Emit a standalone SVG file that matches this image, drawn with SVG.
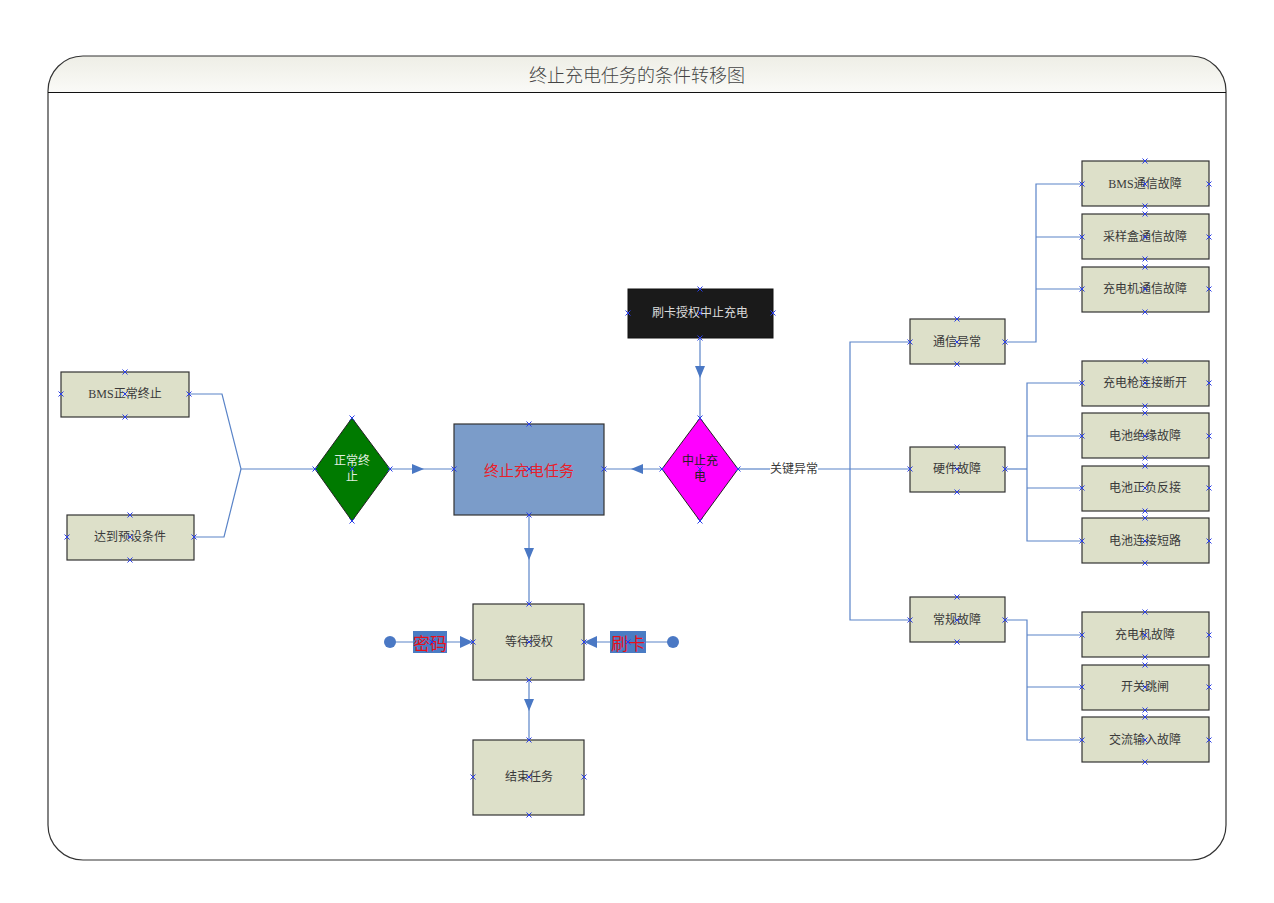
<svg xmlns="http://www.w3.org/2000/svg" xmlns:xlink="http://www.w3.org/1999/xlink" width="1274" height="903" viewBox="0 0 1274 903">
<style>
.box{fill:#dde0c9;stroke:#333;stroke-width:1.2}
.t{font-family:"Liberation Serif","Noto Sans CJK SC",serif;font-size:12px;fill:#3a3a3a;text-anchor:middle;dominant-baseline:central}
.ln{fill:none;stroke:#5a84c8;stroke-width:1.2}
.ah{fill:#4a78c4}
.xm{fill:none;stroke:#2a3ee8;stroke-width:1}
</style>
<defs>
<linearGradient id="hg" x1="0" y1="0" x2="0" y2="1">
<stop offset="0" stop-color="#eeeee6"/>
<stop offset="1" stop-color="#fafaf7"/>
</linearGradient>
<symbol id="x" overflow="visible"><path d="M-2.5,-2.5L2.5,2.5M-2.5,2.5L2.5,-2.5" class="xm"/></symbol>
</defs>
<rect width="1274" height="903" fill="#fff"/>
<g id="frame">
<path d="M48,92 L48,91 A35,35 0 0 1 83,56 L1191,56 A35,35 0 0 1 1226,91 L1226,92 Z" fill="url(#hg)"/>
<rect x="48" y="56" width="1178" height="804" rx="35" ry="35" fill="none" stroke="#333" stroke-width="1.2"/>
<line x1="48" y1="92.5" x2="1226" y2="92.5" stroke="#111" stroke-width="1.2"/>
<text x="637" y="74" font-family="'Noto Sans CJK SC',sans-serif" font-size="18" font-weight="300" fill="#444" text-anchor="middle" dominant-baseline="central">终止充电任务的条件转移图</text>
</g>
<g id="connectors">
<polyline class="ln" points="189,394 222,394 241,469 315,469"/>
<polyline class="ln" points="194,537 224,537 241,469"/>
<line class="ln" x1="390" y1="469" x2="454" y2="469"/>
<path class="ah" d="M412,464 L424,469 L412,474 Z"/>
<line class="ln" x1="662" y1="469" x2="604" y2="469"/>
<path class="ah" d="M643,464 L631,469 L643,474 Z"/>
<line class="ln" x1="700" y1="338" x2="700" y2="418"/>
<path class="ah" d="M695,366 L700,378 L705,366 Z"/>
<line class="ln" x1="529" y1="515" x2="529" y2="604"/>
<path class="ah" d="M524,548 L529,560 L534,548 Z"/>
<line class="ln" x1="529" y1="680" x2="529" y2="740"/>
<path class="ah" d="M524,699 L529,711 L534,699 Z"/>
<line class="ln" x1="390" y1="642" x2="473" y2="642"/>
<circle cx="390" cy="642" r="6" fill="#4a78c4"/>
<path class="ah" d="M460,636 L473,642 L460,648 Z"/>
<rect x="413" y="631" width="34" height="22" fill="#4a7cc4"/>
<text x="430" y="642" font-family="'Noto Sans CJK SC',sans-serif" font-size="17" fill="#e8101a" text-anchor="middle" dominant-baseline="central">密码</text>
<line class="ln" x1="673" y1="642" x2="584" y2="642"/>
<circle cx="673" cy="642" r="6" fill="#4a78c4"/>
<path class="ah" d="M597,636 L584,642 L597,648 Z"/>
<rect x="610" y="631" width="36" height="22" fill="#4a7cc4"/>
<text x="628" y="642" font-family="'Noto Sans CJK SC',sans-serif" font-size="17" fill="#e8101a" text-anchor="middle" dominant-baseline="central">刷卡</text>
<line class="ln" x1="738" y1="469" x2="770" y2="469"/>
<line class="ln" x1="818" y1="469" x2="910" y2="469"/>
<text class="t" x="794" y="469">关键异常</text>
<polyline class="ln" points="910,342 850,342 850,620 910,620"/>
<polyline class="ln" points="1005,342 1036,342 1036,184 1082,184"/>
<line class="ln" x1="1036" y1="237" x2="1082" y2="237"/>
<line class="ln" x1="1036" y1="289" x2="1082" y2="289"/>
<polyline class="ln" points="1005,469 1027,469"/>
<polyline class="ln" points="1082,383 1027,383 1027,541 1082,541"/>
<line class="ln" x1="1027" y1="436" x2="1082" y2="436"/>
<line class="ln" x1="1027" y1="488" x2="1082" y2="488"/>
<polyline class="ln" points="1005,620 1027,620 1027,740 1082,740"/>
<line class="ln" x1="1027" y1="635" x2="1082" y2="635"/>
<line class="ln" x1="1027" y1="687" x2="1082" y2="687"/>
</g>
<g id="n-bms-normal"><rect class="box" x="61" y="372" width="128" height="45"/><text class="t" x="125" y="394">BMS正常终止</text></g>
<g id="n-preset"><rect class="box" x="67" y="515" width="127" height="45"/><text class="t" x="130" y="537">达到预设条件</text></g>
<g id="n-normal-stop"><path d="M352,418 L390,469 L352,521 L315,469 Z" fill="#007a00" stroke="#222" stroke-width="1"/><text class="t" x="352" y="461" style="fill:#e0eee0">正常终</text><text class="t" x="352" y="477" style="fill:#e0eee0">止</text></g>
<g id="n-terminate"><rect x="454" y="424" width="150" height="91" fill="#7b9cc9" stroke="#333" stroke-width="1.2"/><text x="529" y="469" font-family="'Noto Sans CJK SC',sans-serif" font-size="15" fill="#e8202a" text-anchor="middle" dominant-baseline="central">终止充电任务</text></g>
<g id="n-card-stop"><rect x="628" y="289" width="145" height="49" fill="#1a1a1a" stroke="#111"/><text class="t" x="700" y="313" style="fill:#dcdcdc">刷卡授权中止充电</text></g>
<g id="n-abort"><path d="M700,418 L738,469 L700,521 L662,469 Z" fill="#ff00ff" stroke="#222" stroke-width="1"/><text class="t" x="700" y="461" style="fill:#222">中止充</text><text class="t" x="700" y="477" style="fill:#222">电</text></g>
<g id="n-wait"><rect class="box" x="473" y="604" width="111" height="76"/><text class="t" x="529" y="642">等待授权</text></g>
<g id="n-end"><rect class="box" x="473" y="740" width="111" height="75"/><text class="t" x="529" y="777">结束任务</text></g>
<g id="n-comm"><rect class="box" x="910" y="319" width="95" height="45"/><text class="t" x="957" y="342">通信异常</text></g>
<g id="n-hw"><rect class="box" x="910" y="447" width="95" height="45"/><text class="t" x="957" y="469">硬件故障</text></g>
<g id="n-gen"><rect class="box" x="910" y="597" width="95" height="45"/><text class="t" x="957" y="620">常规故障</text></g>
<g id="n-r1"><rect class="box" x="1082" y="161" width="127" height="45"/><text class="t" x="1145" y="184">BMS通信故障</text></g>
<g id="n-r2"><rect class="box" x="1082" y="214" width="127" height="45"/><text class="t" x="1145" y="237">采样盒通信故障</text></g>
<g id="n-r3"><rect class="box" x="1082" y="267" width="127" height="45"/><text class="t" x="1145" y="289">充电机通信故障</text></g>
<g id="n-r4"><rect class="box" x="1082" y="361" width="127" height="45"/><text class="t" x="1145" y="383">充电枪连接断开</text></g>
<g id="n-r5"><rect class="box" x="1082" y="413" width="127" height="45"/><text class="t" x="1145" y="436">电池绝缘故障</text></g>
<g id="n-r6"><rect class="box" x="1082" y="466" width="127" height="45"/><text class="t" x="1145" y="488">电池正负反接</text></g>
<g id="n-r7"><rect class="box" x="1082" y="518" width="127" height="45"/><text class="t" x="1145" y="541">电池连接短路</text></g>
<g id="n-r8"><rect class="box" x="1082" y="612" width="127" height="45"/><text class="t" x="1145" y="635">充电机故障</text></g>
<g id="n-r9"><rect class="box" x="1082" y="665" width="127" height="45"/><text class="t" x="1145" y="687">开关跳闸</text></g>
<g id="n-r10"><rect class="box" x="1082" y="717" width="127" height="45"/><text class="t" x="1145" y="740">交流输入故障</text></g>
<g id="markers">
<use href="#x" x="61" y="394"/><use href="#x" x="189" y="394"/><use href="#x" x="125" y="372"/><use href="#x" x="125" y="417"/><use href="#x" x="125" y="394"/>
<use href="#x" x="67" y="537"/><use href="#x" x="194" y="537"/><use href="#x" x="130" y="515"/><use href="#x" x="130" y="560"/><use href="#x" x="130" y="537"/>
<use href="#x" x="352" y="418"/><use href="#x" x="352" y="521"/><use href="#x" x="315" y="469"/><use href="#x" x="390" y="469"/><use href="#x" x="352" y="469"/>
<use href="#x" x="529" y="424"/><use href="#x" x="529" y="515"/><use href="#x" x="454" y="469"/><use href="#x" x="604" y="469"/><use href="#x" x="529" y="469"/>
<use href="#x" x="700" y="289"/><use href="#x" x="700" y="338"/><use href="#x" x="628" y="313"/><use href="#x" x="773" y="313"/><use href="#x" x="700" y="313"/>
<use href="#x" x="700" y="418"/><use href="#x" x="700" y="521"/><use href="#x" x="662" y="469"/><use href="#x" x="738" y="469"/><use href="#x" x="700" y="469"/>
<use href="#x" x="529" y="604"/><use href="#x" x="529" y="680"/><use href="#x" x="473" y="642"/><use href="#x" x="584" y="642"/><use href="#x" x="529" y="642"/>
<use href="#x" x="529" y="740"/><use href="#x" x="529" y="815"/><use href="#x" x="473" y="777"/><use href="#x" x="584" y="777"/><use href="#x" x="529" y="777"/>
<use href="#x" x="432" y="642"/><use href="#x" x="628" y="642"/>
<use href="#x" x="957" y="319"/><use href="#x" x="957" y="364"/><use href="#x" x="910" y="342"/><use href="#x" x="1005" y="342"/><use href="#x" x="957" y="342"/>
<use href="#x" x="957" y="447"/><use href="#x" x="957" y="492"/><use href="#x" x="910" y="469"/><use href="#x" x="1005" y="469"/><use href="#x" x="957" y="469"/>
<use href="#x" x="957" y="597"/><use href="#x" x="957" y="642"/><use href="#x" x="910" y="620"/><use href="#x" x="1005" y="620"/><use href="#x" x="957" y="620"/>
<use href="#x" x="1145" y="161"/><use href="#x" x="1145" y="206"/><use href="#x" x="1082" y="184"/><use href="#x" x="1209" y="184"/><use href="#x" x="1145" y="184"/>
<use href="#x" x="1145" y="214"/><use href="#x" x="1145" y="259"/><use href="#x" x="1082" y="237"/><use href="#x" x="1209" y="237"/><use href="#x" x="1145" y="237"/>
<use href="#x" x="1145" y="267"/><use href="#x" x="1145" y="312"/><use href="#x" x="1082" y="289"/><use href="#x" x="1209" y="289"/><use href="#x" x="1145" y="289"/>
<use href="#x" x="1145" y="361"/><use href="#x" x="1145" y="406"/><use href="#x" x="1082" y="383"/><use href="#x" x="1209" y="383"/><use href="#x" x="1145" y="383"/>
<use href="#x" x="1145" y="413"/><use href="#x" x="1145" y="458"/><use href="#x" x="1082" y="436"/><use href="#x" x="1209" y="436"/><use href="#x" x="1145" y="436"/>
<use href="#x" x="1145" y="466"/><use href="#x" x="1145" y="511"/><use href="#x" x="1082" y="488"/><use href="#x" x="1209" y="488"/><use href="#x" x="1145" y="488"/>
<use href="#x" x="1145" y="518"/><use href="#x" x="1145" y="563"/><use href="#x" x="1082" y="541"/><use href="#x" x="1209" y="541"/><use href="#x" x="1145" y="541"/>
<use href="#x" x="1145" y="612"/><use href="#x" x="1145" y="657"/><use href="#x" x="1082" y="635"/><use href="#x" x="1209" y="635"/><use href="#x" x="1145" y="635"/>
<use href="#x" x="1145" y="665"/><use href="#x" x="1145" y="710"/><use href="#x" x="1082" y="687"/><use href="#x" x="1209" y="687"/><use href="#x" x="1145" y="687"/>
<use href="#x" x="1145" y="717"/><use href="#x" x="1145" y="762"/><use href="#x" x="1082" y="740"/><use href="#x" x="1209" y="740"/><use href="#x" x="1145" y="740"/>
</g>
</svg>
